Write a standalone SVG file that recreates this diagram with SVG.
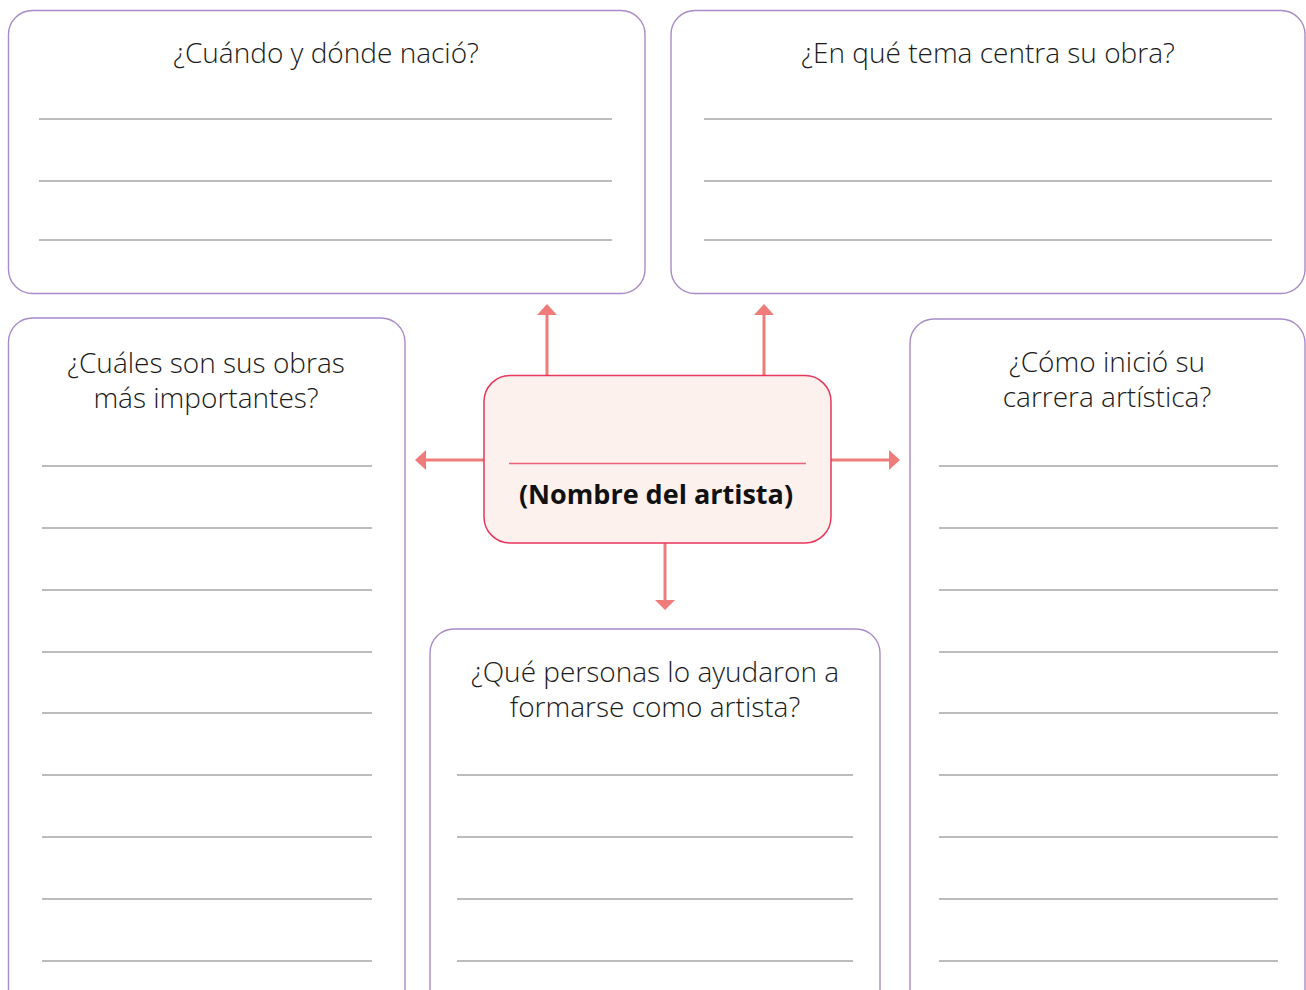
<svg xmlns="http://www.w3.org/2000/svg" width="1306" height="990" viewBox="0 0 1306 990">
<style>
.box{fill:#fff;stroke:#a98bc9;stroke-width:1.4}
.rule{stroke:#a6a6a6;stroke-width:1.3}
.q{font-family:"Open Sans","Noto Sans",sans-serif;font-weight:300;font-size:28px;fill:#1a1a1a;text-anchor:middle}
.arr{stroke:#f07b7b;stroke-width:3;fill:none}
.head{fill:#f07b7b}
</style>
<rect width="1306" height="990" fill="#fff"/>
<g id="n-born">
<rect class="box" x="8.5" y="10.5" width="636.5" height="283" rx="24"/>
<text class="q" x="326" y="63">¿Cuándo y dónde nació?</text>
<g class="rule"><line x1="39" y1="119" x2="612" y2="119"/><line x1="39" y1="181" x2="612" y2="181"/><line x1="39" y1="240" x2="612" y2="240"/></g>
</g>
<g id="n-theme">
<rect class="box" x="671" y="10.5" width="634" height="283" rx="24"/>
<text class="q" x="988" y="63">¿En qué tema centra su obra?</text>
<g class="rule"><line x1="704" y1="119" x2="1272" y2="119"/><line x1="704" y1="181" x2="1272" y2="181"/><line x1="704" y1="240" x2="1272" y2="240"/></g>
</g>
<g id="n-works">
<rect class="box" x="8.5" y="318" width="396.5" height="700" rx="24"/>
<text class="q" x="206" y="373">¿Cuáles son sus obras</text>
<text class="q" x="206" y="408">más importantes?</text>
<g class="rule"><line x1="42" y1="466" x2="372" y2="466"/><line x1="42" y1="528" x2="372" y2="528"/><line x1="42" y1="590" x2="372" y2="590"/><line x1="42" y1="652" x2="372" y2="652"/><line x1="42" y1="713" x2="372" y2="713"/><line x1="42" y1="775" x2="372" y2="775"/><line x1="42" y1="837" x2="372" y2="837"/><line x1="42" y1="899" x2="372" y2="899"/><line x1="42" y1="961" x2="372" y2="961"/></g>
</g>
<g id="n-career">
<rect class="box" x="910" y="319" width="395" height="700" rx="24"/>
<text class="q" x="1107" y="372">¿Cómo inició su</text>
<text class="q" x="1107" y="407">carrera artística?</text>
<g class="rule"><line x1="939" y1="466" x2="1278" y2="466"/><line x1="939" y1="528" x2="1278" y2="528"/><line x1="939" y1="590" x2="1278" y2="590"/><line x1="939" y1="652" x2="1278" y2="652"/><line x1="939" y1="713" x2="1278" y2="713"/><line x1="939" y1="775" x2="1278" y2="775"/><line x1="939" y1="837" x2="1278" y2="837"/><line x1="939" y1="899" x2="1278" y2="899"/><line x1="939" y1="961" x2="1278" y2="961"/></g>
</g>
<g id="n-people">
<rect class="box" x="430" y="629" width="450" height="400" rx="24"/>
<text class="q" x="655" y="682">¿Qué personas lo ayudaron a</text>
<text class="q" x="655" y="717">formarse como artista?</text>
<g class="rule"><line x1="457" y1="775" x2="853" y2="775"/><line x1="457" y1="837" x2="853" y2="837"/><line x1="457" y1="899" x2="853" y2="899"/><line x1="457" y1="961" x2="853" y2="961"/></g>
</g>
<g id="connectors">
<line class="arr" x1="547" y1="375" x2="547" y2="314"/><polygon class="head" points="537,315 547,304 557,315"/>
<line class="arr" x1="764" y1="375" x2="764" y2="314"/><polygon class="head" points="754,315 764,304 774,315"/>
<line class="arr" x1="484" y1="460" x2="425" y2="460"/><polygon class="head" points="426,450 415,460 426,470"/>
<line class="arr" x1="831" y1="460" x2="890" y2="460"/><polygon class="head" points="889,450 900,460 889,470"/>
<line class="arr" x1="665" y1="543" x2="665" y2="601"/><polygon class="head" points="655,600 665,610 675,600"/>
</g>
<g id="n-artist">
<rect x="484" y="375.5" width="347" height="167.5" rx="26" fill="#fdf1ee" stroke="#e8365d" stroke-width="1.5"/>
<line x1="509" y1="463.5" x2="806" y2="463.5" stroke="#f0607a" stroke-width="1.5"/>
<text x="656" y="504" font-family="'Open Sans','Noto Sans',sans-serif" font-weight="700" font-size="27" fill="#111" text-anchor="middle">(Nombre del artista)</text>
</g>
</svg>
